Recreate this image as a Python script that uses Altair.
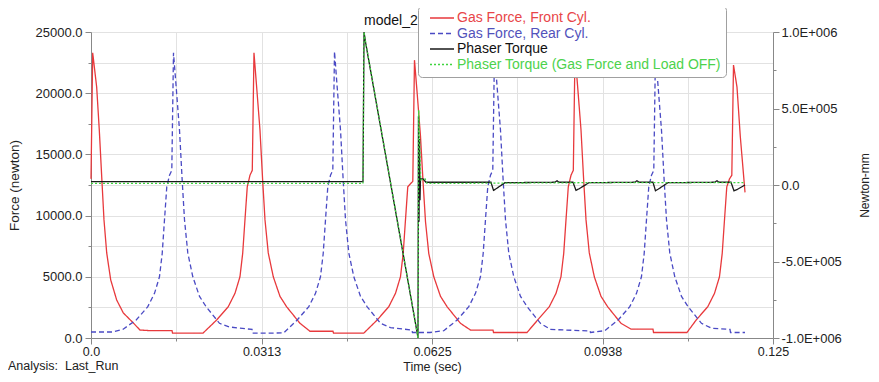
import altair as alt
import pandas as pd

# ---------------- data ----------------
series_names = ["Gas Force, Front Cyl.", "Gas Force, Rear Cyl.",
                "Phaser Torque", "Phaser Torque (Gas Force and Load OFF)"]
series_colors = ["#e8393c", "#4a4ac4", "#1a1a1a", "#3fd43f"]
label_colors = ["#e84548", "#5252bb", "#111111", "#4cd24c"]
series_dashes = [[1, 0], [5, 3], [1, 0], [2, 2]]
series_widths = [1.3, 1.3, 1.4, 1.8]

# Gas force, front cylinder (time s, force N)
front_t = [0.0, 0.00031, 0.00104, 0.00152, 0.00196, 0.00238, 0.00288, 0.00361, 0.00471, 0.00592,
           0.00775, 0.00898, 0.01081, 0.01485, 0.01494, 0.02053,
           0.02303, 0.02516, 0.02639, 0.02730, 0.02780, 0.02822, 0.02864, 0.02914, 0.02956, 0.02987,
           0.03036, 0.03097, 0.03146, 0.03189, 0.03249, 0.03341, 0.03464, 0.03586, 0.03830, 0.04013,
           0.04435, 0.04445, 0.05000,
           0.05245, 0.05458, 0.05581, 0.05672, 0.05722, 0.05764, 0.05806, 0.05856, 0.05898, 0.05929,
           0.05978, 0.06039, 0.06088, 0.06131, 0.06191, 0.06283, 0.06406, 0.06528, 0.06772, 0.06955,
           0.07368, 0.07377, 0.07991,
           0.08187, 0.08400, 0.08523, 0.08614, 0.08664, 0.08706, 0.08748, 0.08798, 0.08840, 0.08871,
           0.08920, 0.08981, 0.09030, 0.09073, 0.09133, 0.09225, 0.09348, 0.09470, 0.09714, 0.09897,
           0.10300, 0.10310, 0.10923,
           0.11092, 0.11305, 0.11428, 0.11519, 0.11569, 0.11611, 0.11653, 0.11703, 0.11745, 0.11776,
           0.11840, 0.11900, 0.11987]
front_f = [13000, 23300, 20500, 17000, 13200, 9650, 6950, 4750, 3100, 2050,
           1230, 650, 600, 600, 400, 400,
           1470, 2560, 3650, 5000, 6900, 9650, 12350, 13300, 13700, 23300,
           20500, 17000, 12900, 9650, 6950, 5000, 3400, 2550, 1200, 550,
           550, 400, 400,
           1470, 2560, 3650, 5000, 6900, 9650, 12350, 12600, 12800, 22700,
           20000, 16500, 12600, 9500, 6900, 5000, 3400, 2550, 1200, 650,
           650, 450, 450,
           1470, 2560, 3650, 5000, 6900, 9650, 12350, 13300, 13700, 23200,
           20500, 17000, 12900, 9650, 6950, 5000, 3400, 2550, 1200, 730,
           730, 450, 450,
           1470, 2560, 3650, 5000, 6900, 9650, 12350, 13000, 13300, 22300,
           20500, 16500, 11900]

# Gas force, rear cylinder
rear_t = [0.0, 0.00403, 0.00583, 0.00828, 0.01041, 0.01164, 0.01255, 0.01305, 0.01347, 0.01389,
          0.01439, 0.01481, 0.01512,
          0.01561, 0.01622, 0.01671, 0.01714, 0.01774, 0.01866, 0.01989, 0.02111, 0.02355, 0.02538,
          0.02951, 0.02960, 0.03336,
          0.03534, 0.03779, 0.03992, 0.04115, 0.04206, 0.04256, 0.04298, 0.04340, 0.04390, 0.04432,
          0.04463,
          0.04512, 0.04573, 0.04622, 0.04665, 0.04725, 0.04817, 0.04940, 0.05062, 0.05306, 0.05489,
          0.05883, 0.05892, 0.06213,
          0.06466, 0.06711, 0.06924, 0.07047, 0.07138, 0.07188, 0.07230, 0.07272, 0.07322, 0.07364,
          0.07395,
          0.07444, 0.07505, 0.07554, 0.07597, 0.07657, 0.07749, 0.07872, 0.07994, 0.08238, 0.08421,
          0.09146, 0.09155,
          0.09417, 0.09662, 0.09875, 0.09998, 0.10089, 0.10139, 0.10181, 0.10223, 0.10273, 0.10315,
          0.10346,
          0.10395, 0.10456, 0.10505, 0.10548, 0.10608, 0.10700, 0.10823, 0.10945, 0.11189, 0.11372,
          0.11712, 0.11721, 0.11987]
rear_f = [490, 490, 700, 1470, 2560, 3650, 5000, 6900, 9650, 12350,
          13300, 13700, 23300,
          20500, 17000, 12900, 9650, 6950, 5000, 3400, 2550, 1200, 900,
          700, 400, 400,
          420, 1470, 2560, 3650, 5000, 6900, 9650, 12350, 13300, 13700,
          23400,
          20500, 17000, 12900, 9650, 6950, 5000, 3400, 2550, 1200, 850,
          650, 450, 450,
          600, 1470, 2560, 3650, 5000, 6900, 9650, 12350, 13300, 13700,
          23300,
          20500, 17000, 12900, 9650, 6950, 5000, 3400, 2550, 1200, 700,
          570, 450,
          600, 1470, 2560, 3650, 5000, 6900, 9650, 12350, 13300, 13700,
          23300,
          20500, 17000, 12900, 9650, 6950, 5000, 3400, 2550, 1200, 800,
          700, 450, 450]

# Phaser torque (time s, torque N-mm)
torque_t = [0.0, 0.04985, 0.05004, 0.05031, 0.05975, 0.05993, 0.06002, 0.06012, 0.06021, 0.06030,
            0.06039, 0.06085, 0.06140, 0.07331, 0.07377, 0.07423, 0.07588, 0.08504, 0.08541, 0.08577,
            0.08834, 0.08889, 0.08944, 0.09127, 0.09970, 0.10007, 0.10044, 0.10300, 0.10346, 0.10392,
            0.10575, 0.11437, 0.11473, 0.11510, 0.11730, 0.11785, 0.11840, 0.11987]
torque_v = [22000, 22000, 1000000, 935000, -960000, -1000000, 450000, -240000, 300000, -100000,
            40000, 40000, 18000, 18000, -35000, -25000, 15000, 18000, 28000, 18000,
            18000, -35000, -25000, 15000, 18000, 28000, 18000, 18000, -38000, -28000,
            15000, 18000, 28000, 18000, 18000, -38000, -30000, 0]

# Phaser torque with gas force and load off
torque_off_t = [0.0, 0.04985, 0.05004, 0.05031, 0.05975, 0.05993, 0.06006, 0.06043, 0.06122, 0.06158,
                0.09000, 0.11987]
torque_off_v = [10000, 10000, 1000000, 940000, -960000, -1000000, 490000, 33000, 40000, 10000,
                15000, 15000]

# axis ticks and labels
x_grid_vals = [0.0, 0.015625, 0.03125, 0.046875, 0.0625, 0.078125, 0.09375, 0.109375, 0.125]
x_tick_vals = [0.0, 0.03125, 0.0625, 0.09375, 0.125]
x_tick_labels = ["0.0", "0.0313", "0.0625", "0.0938", "0.125"]
left_vals = [0, 2500, 5000, 7500, 10000, 12500, 15000, 17500, 20000, 22500, 25000]
right_vals = [-1000000, -750000, -500000, -250000, 0, 250000, 500000, 750000, 1000000]
right_tick_vals = [1000000, 500000, 0, -500000, -1000000]
right_tick_labels = ["1.0E+006", "5.0E+005", "0.0", "-5.0E+005", "-1.0E+006"]

model_text = ["model_2"]
analysis_text = ["Analysis:\u00a0 Last_Run"]

FONT = "Liberation Sans"

# ---------------- build ----------------
def frame(ts, vs, name):
    return pd.DataFrame({"t": ts, "v": vs, "series": [name] * len(ts)})

df_force = pd.concat([frame(front_t, front_f, series_names[0]),
                      frame(rear_t, rear_f, series_names[1])], ignore_index=True)
df_force["i"] = range(len(df_force))
df_torque = pd.concat([frame(torque_t, torque_v, series_names[2]),
                       frame(torque_off_t, torque_off_v, series_names[3])], ignore_index=True)
df_torque["i"] = range(len(df_torque))


def match_expr(vals, labels, default="''"):
    expr = default
    for v, l in reversed(list(zip(vals, labels))):
        expr = f"abs(datum.value - ({v})) < 1e-7 ? '{l}' : {expr}"
    return expr

major_x_test = " || ".join(f"abs(datum.value - ({v})) < 1e-7" for v in x_tick_vals)
major_r_test = " || ".join(f"abs(datum.value - ({v})) < 1e-3" for v in right_tick_vals)

names_js = "[" + ",".join(f"'{n}'" for n in series_names) + "]"
lcols_js = "[" + ",".join(f"'{c}'" for c in label_colors) + "]"
label_color_expr = f"{lcols_js}[indexof({names_js}, datum.label)]"

legend = alt.Legend(
    title=None, orient="none", legendX=327, legendY=-26, direction="vertical",
    fillColor="white", strokeColor="#a0a0a0", cornerRadius=4, padding=5,
    symbolType="M0,0h4", symbolSize=144, symbolStrokeWidth=1.5,
    labelFont=FONT, labelFontSize=14, labelColor=alt.ExprRef(label_color_expr),
    labelOffset=20, rowPadding=1.5, labelLimit=400, zindex=1,
)

color_enc = alt.Color("series:N", scale=alt.Scale(domain=series_names, range=series_colors), legend=legend)
dash_enc = alt.StrokeDash("series:N", scale=alt.Scale(domain=series_names, range=series_dashes), legend=legend)
width_enc = alt.StrokeWidth("series:N", scale=alt.Scale(domain=series_names, range=series_widths), legend=None)

x_enc = alt.X(
    "t:Q", scale=alt.Scale(domain=[0, 0.125], nice=False, zero=False),
    axis=alt.Axis(
        values=x_grid_vals, labelExpr=match_expr(x_tick_vals, x_tick_labels),
        title="Time (sec)", titleX=341, titleY=28, titleBaseline="middle",
        titleFont=FONT, titleFontSize=12.5, titleFontWeight="normal", titleColor="#222",
        labelFont=FONT, labelFontSize=12.5, labelColor="#222", labelPadding=1,
        labelFlush=False, labelOverlap=False,
        grid=True, gridColor="#e2e2e2", gridWidth=1,
        domainColor="#888", tickColor="#888",
        tickSize={"condition": {"test": major_x_test, "value": 6}, "value": 3},
    ),
)

y_left = alt.Y(
    "v:Q", scale=alt.Scale(domain=[0, 25000], nice=False),
    axis=alt.Axis(
        orient="left", values=left_vals,
        labelExpr="datum.value % 5000 == 0 ? format(datum.value, '.1f') : ''",
        title="Force (newton)", titleX=-77, titleY=153, titleBaseline="middle", titleAngle=270,
        titleFont=FONT, titleFontSize=13.5, titleFontWeight="normal", titleColor="#222",
        labelFont=FONT, labelFontSize=13, labelColor="#222", labelPadding=3,
        labelFlush=False, labelOverlap=False,
        grid=True, gridColor="#e2e2e2", gridWidth=1,
        domainColor="#888", tickColor="#888",
        tickSize={"condition": {"test": "datum.value % 5000 == 0", "value": 6}, "value": 3},
    ),
)

y_right = alt.Y(
    "v:Q", scale=alt.Scale(domain=[-1000000, 1000000], nice=False),
    axis=alt.Axis(
        orient="right", values=right_vals,
        labelExpr=match_expr(right_tick_vals, right_tick_labels),
        title="Newton-mm", titleX=91, titleY=153, titleBaseline="middle", titleAngle=270,
        titleFont=FONT, titleFontSize=12, titleFontWeight="normal", titleColor="#222",
        labelFont=FONT, labelFontSize=13, labelColor="#222", labelPadding=2,
        labelFlush=False, labelOverlap=False, grid=False,
        domainColor="#888", tickColor="#888",
        tickSize={"condition": {"test": major_r_test, "value": 6}, "value": 3},
    ),
)

model_layer = alt.Chart(pd.DataFrame({"txt": model_text})).mark_text(
    align="left", baseline="middle", font=FONT, fontSize=14, color="#111"
).encode(text="txt:N", x=alt.value(273), y=alt.value(-11))

analysis_layer = alt.Chart(pd.DataFrame({"txt": analysis_text})).mark_text(
    align="left", baseline="middle", font=FONT, fontSize=12.5, color="#222"
).encode(text="txt:N", x=alt.value(-83), y=alt.value(334))

force = alt.Chart(df_force).mark_line().encode(
    x=x_enc, y=y_left, color=color_enc, strokeDash=dash_enc, strokeWidth=width_enc, order="i:Q"
)
torque = alt.Chart(df_torque).mark_line().encode(
    x=alt.X("t:Q"), y=y_right, color=color_enc, strokeDash=dash_enc, strokeWidth=width_enc, order="i:Q"
)

chart = alt.layer(model_layer, analysis_layer, force, torque).resolve_scale(
    y="independent"
).properties(
    width=682, height=306, autosize="none",
    padding={"left": 83, "top": 24, "right": 98, "bottom": 36},
    background="white",
).configure_view(stroke=None)

chart.save("out.html", embed_options={"renderer": "svg", "actions": False})
